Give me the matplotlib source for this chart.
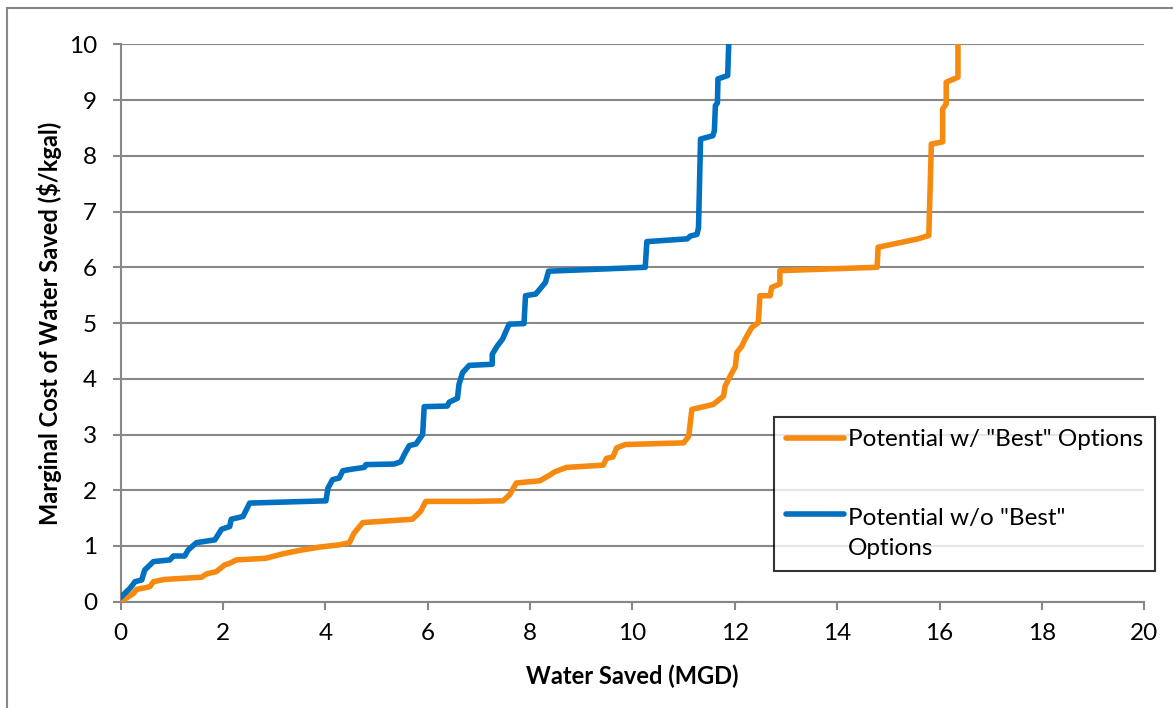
import matplotlib
matplotlib.use('Agg')
import matplotlib.pyplot as plt
from matplotlib.patches import Rectangle

plt.rcParams['font.family'] = ['Lato', 'DejaVu Sans']

# water saved (MGD) vs marginal cost ($/kgal)
best_x = [0, 0.25, 0.31, 0.57, 0.64, 0.86, 1.58, 1.68, 1.87, 2.03, 2.13, 2.26, 2.84, 3.17,
          3.49, 3.88, 4.27, 4.47, 4.56, 4.73, 5.70, 5.86, 5.96, 6.82, 7.47, 7.60, 7.73, 8.19,
          8.38, 8.48, 8.71, 9.43, 9.49, 9.62, 9.69, 9.86, 11.0, 11.10, 11.16, 11.58, 11.78,
          11.81, 11.91, 12.01, 12.04, 12.14, 12.20, 12.33, 12.46, 12.49, 12.69, 12.72, 12.88,
          12.88, 14.78, 14.80, 15.58, 15.79, 15.84, 16.06, 16.06, 16.13, 16.13, 16.36, 16.36]
best_y = [0, 0.15, 0.22, 0.27, 0.36, 0.40, 0.44, 0.50, 0.54, 0.66, 0.69, 0.75, 0.78, 0.86,
          0.92, 0.98, 1.02, 1.06, 1.23, 1.42, 1.48, 1.62, 1.80, 1.80, 1.81, 1.92, 2.13, 2.17,
          2.27, 2.33, 2.41, 2.45, 2.57, 2.60, 2.76, 2.82, 2.85, 2.97, 3.45, 3.54, 3.69,
          3.87, 4.05, 4.22, 4.47, 4.59, 4.71, 4.92, 5.01, 5.49, 5.49, 5.64, 5.70,
          5.94, 6.0, 6.36, 6.51, 6.57, 8.21, 8.25, 8.84, 8.93, 9.32, 9.41, 10.0]

nobest_x = [0, 0.18, 0.28, 0.41, 0.47, 0.64, 0.96, 1.03, 1.25, 1.32, 1.48, 1.84, 1.97, 2.13,
            2.16, 2.39, 2.52, 4.01, 4.05, 4.14, 4.27, 4.34, 4.53, 4.76, 4.79, 5.34, 5.47, 5.57,
            5.64, 5.77, 5.90, 5.93, 6.38, 6.42, 6.58, 6.61, 6.68, 6.81, 7.26, 7.26, 7.36, 7.46,
            7.59, 7.88, 7.91, 8.11, 8.30, 8.36, 10.25, 10.28, 11.07, 11.13, 11.26, 11.29,
            11.33, 11.57, 11.60, 11.62, 11.66, 11.67, 11.86, 11.88]
nobest_y = [0.08, 0.24, 0.36, 0.39, 0.57, 0.72, 0.75, 0.82, 0.82, 0.93, 1.06, 1.11, 1.30, 1.35,
            1.48, 1.53, 1.77, 1.81, 2.04, 2.19, 2.22, 2.35, 2.38, 2.41, 2.46, 2.47, 2.51, 2.69,
            2.80, 2.83, 3.0, 3.50, 3.51, 3.58, 3.65, 3.90, 4.11, 4.24, 4.26, 4.44, 4.59, 4.71,
            4.98, 4.99, 5.49, 5.52, 5.73, 5.93, 6.0, 6.46, 6.51, 6.56, 6.59, 6.71,
            8.30, 8.36, 8.45, 8.90, 8.95, 9.38, 9.44, 10.0]

orange = '#F68A10'
blue = '#0070C0'
grey = '#878787'

fig = plt.figure(figsize=(11.73, 7.08), dpi=100)
ax = fig.add_axes([0.1029, 0.1501, 0.8726, 0.7873])

ax.plot(best_x, best_y, color=orange, lw=4.0, solid_joinstyle='round',
        solid_capstyle='round', label='Potential w/ "Best" Options', zorder=3)
ax.plot(nobest_x, nobest_y, color=blue, lw=4.0, solid_joinstyle='round',
        solid_capstyle='round', label='Potential w/o "Best"\nOptions', zorder=3)

ax.set_xlim(0, 20)
ax.set_ylim(0, 10)
ax.set_xticks(range(0, 21, 2))
ax.set_yticks(range(0, 11))
ax.yaxis.grid(True, color=grey, lw=1.5)
ax.set_axisbelow(True)
for s in ['top', 'right']:
    ax.spines[s].set_visible(False)
for s in ['left', 'bottom']:
    ax.spines[s].set_color(grey)
    ax.spines[s].set_linewidth(1.5)
ax.tick_params(axis='both', direction='out', length=6, width=1.5, color=grey,
               labelsize=17.5, labelcolor='black')
ax.tick_params(axis='y', pad=11)
ax.tick_params(axis='x', pad=9)

ax.set_xlabel('Water Saved (MGD)', fontsize=17, fontweight='bold', labelpad=15)
ax.set_ylabel('Marginal Cost of Water Saved ($/kgal)', fontsize=17, fontweight='bold',
              labelpad=5)

leg = ax.legend(loc='upper left', bbox_to_anchor=(0.638, 0.331), borderaxespad=0,
                fontsize=17.5, frameon=True, fancybox=False, handlelength=2.4,
                handletextpad=0.15, labelspacing=2.35, borderpad=0.5)
leg.get_frame().set_edgecolor('black')
leg.get_frame().set_linewidth(1.5)
leg.get_texts()[1].set_linespacing(1.55)
h = leg.legend_handles[1]
h.set_ydata([y + 13.5 for y in h.get_ydata()])

fig.patches.append(Rectangle((7 / 1173, -0.1), 1.2, 1.1 - 8.5 / 708, transform=fig.transFigure,
                             fill=False, edgecolor=grey, lw=1.5))

fig.savefig('out.png', dpi=100)
